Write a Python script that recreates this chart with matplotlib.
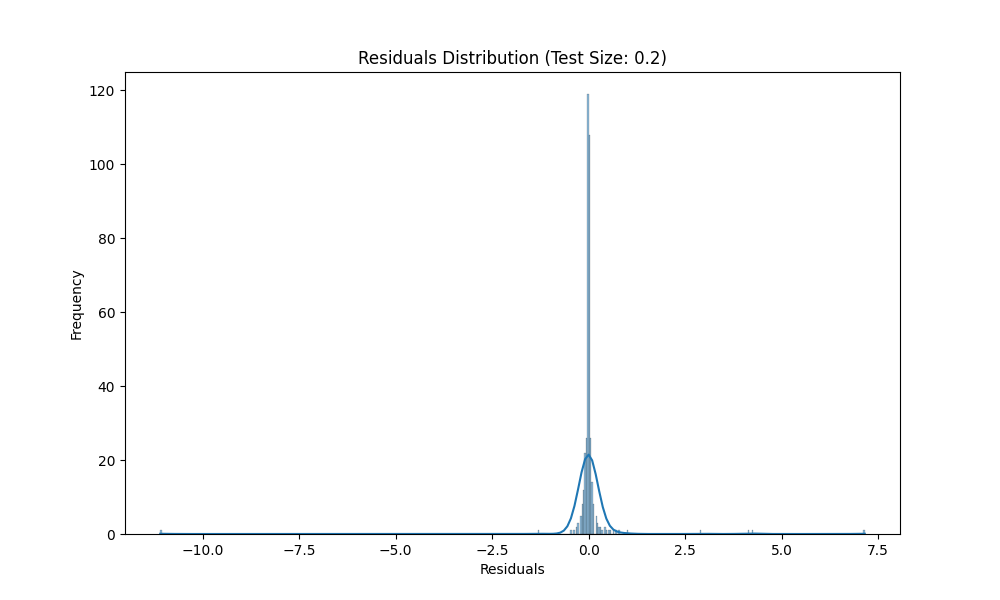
import numpy as np
import matplotlib
matplotlib.use("Agg")
import matplotlib.pyplot as plt
import seaborn as sns

# residual value (bin centre) and how many test residuals fall there
residual_values = [-11.10, -1.30, -0.45, -0.38, -0.30, -0.26, -0.22, -0.18, -0.15, -0.11,
                   -0.075, -0.04, -0.005, 0.01, 0.03, 0.065, 0.10, 0.14, 0.18, 0.22,
                   0.26, 0.30, 0.35, 0.40, 0.45, 0.52, 0.58, 0.65, 0.72, 0.78,
                   1.00, 2.90, 4.15, 4.25, 7.15]
counts = [1, 1, 1, 1, 2, 3, 5, 8, 12, 22,
          26, 52, 67, 66, 42, 26, 14, 8, 5, 3,
          2, 2, 1, 2, 1, 1, 1, 1, 1, 1,
          1, 1, 1, 1, 1]

residuals = np.repeat(np.array(residual_values), counts)

fig, ax = plt.subplots(figsize=(10, 6), dpi=100)
sns.histplot(residuals, bins=500, kde=True, ax=ax)
ax.set_title("Residuals Distribution (Test Size: 0.2)")
ax.set_xlabel("Residuals")
ax.set_ylabel("Frequency")
fig.savefig("out.png")
